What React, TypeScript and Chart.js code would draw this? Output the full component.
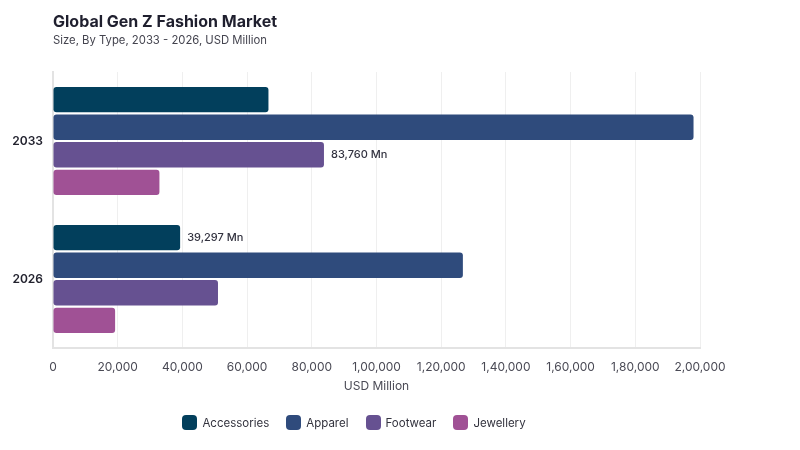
import React, { useEffect, useRef } from "react";
import { Chart, registerables } from "chart.js";

Chart.register(...registerables);

const categories = ["2033", "2026"];
const seriesNames = ["Accessories", "Apparel", "Footwear", "Jewellery"];
const accessories = [66600, 39297];
const apparel = [198000, 126700];
const footwear = [83760, 51000];
const jewellery = [32900, 19200];
const seriesColors = ["#023f5c", "#2f4b7c", "#665191", "#a05195"];
// which (dataset, category) pairs carry a value label
const labelledDataset = [2, 0];
const labelledCategory = [0, 1];
const xTicks = [0, 20000, 40000, 60000, 80000, 100000, 120000, 140000, 160000, 180000, 200000];

const FONT = "Inter, 'Noto Sans', sans-serif";

const fmtIN = (v: number) => Math.round(v).toLocaleString("en-IN");

const valueLabelPlugin = {
  id: "valueLabels",
  afterDatasetsDraw(chart: any) {
    const ctx = chart.ctx;
    ctx.save();
    ctx.font = `500 11px ${FONT}`;
    ctx.fillStyle = "#333340";
    ctx.textAlign = "left";
    ctx.textBaseline = "middle";
    for (let i = 0; i < labelledDataset.length; i++) {
      const ds = labelledDataset[i];
      const ci = labelledCategory[i];
      const el = chart.getDatasetMeta(ds).data[ci];
      const v = chart.data.datasets[ds].data[ci];
      ctx.fillText(`${fmtIN(v)} Mn`, el.x + 7, el.y);
    }
    ctx.restore();
  },
};

export default function App() {
  const ref = useRef<HTMLCanvasElement>(null);
  useEffect(() => {
    const data = [accessories, apparel, footwear, jewellery];
    const chart = new Chart(ref.current!, {
      type: "bar",
      data: {
        labels: categories,
        datasets: seriesNames.map((n, i) => ({
          label: n,
          data: data[i],
          backgroundColor: seriesColors[i],
          borderColor: seriesColors[i],
          borderWidth: 0,
          borderRadius: 3,
          borderSkipped: false,
          categoryPercentage: 0.8,
          barPercentage: 0.92,
        })),
      },
      options: {
        indexAxis: "y",
        animation: false,
        responsive: false,
        maintainAspectRatio: false,
        layout: { padding: { top: 72, right: 100, bottom: 46, left: 0 } },
        plugins: {
          legend: { display: false },
          tooltip: { enabled: false },
          title: { display: false },
        },
        scales: {
          x: {
            min: 0,
            max: 200000,
            afterBuildTicks: (s: any) => {
              s.ticks = xTicks.map((v) => ({ value: v }));
            },
            afterFit: (s: any) => {
              s.height = 56;
            },
            grid: { color: "#efefef", lineWidth: 1, drawTicks: false },
            border: { color: "#e3e3e3", width: 2 },
            ticks: {
              padding: 12,
              color: "#4a4a55",
              font: { family: FONT, size: 12 },
              callback: (v: any) => fmtIN(Number(v)),
            },
            title: {
              display: true,
              text: "USD Million",
              color: "#4a4a55",
              font: { family: FONT, size: 12 },
              padding: { top: 0, bottom: 10 },
            },
          },
          y: {
            afterFit: (s: any) => {
              s.width = 53;
            },
            grid: { display: false, drawTicks: false },
            border: { color: "#e3e3e3", width: 2 },
            ticks: {
              padding: 10,
              color: "#22222e",
              font: { family: FONT, size: 12, weight: 600 },
            },
          },
        },
      },
      plugins: [valueLabelPlugin],
    } as any);
    return () => chart.destroy();
  }, []);

  return (
    <div style={{ position: "fixed", left: 0, top: 0, width: 800, height: 450, background: "#fff", fontFamily: FONT }}>
      <canvas ref={ref} width={800} height={450} style={{ position: "absolute", left: 0, top: 0 }} />
      <div style={{ position: "absolute", left: 53, top: 11, fontSize: 16, fontWeight: 700, color: "#1f1f2e" }}>
        Global Gen Z Fashion Market
      </div>
      <div style={{ position: "absolute", left: 53, top: 33, fontSize: 11.3, color: "#44444f" }}>
        Size, By Type, 2033 - 2026, USD Million
      </div>
      <div
        style={{
          position: "absolute",
          left: 0,
          width: 708,
          top: 415,
          display: "flex",
          justifyContent: "center",
          gap: 17,
          fontSize: 11.5,
          color: "#33333e",
        }}
      >
        {seriesNames.map((n, i) => (
          <div key={n} style={{ display: "flex", alignItems: "center", gap: 5 }}>
            <span style={{ display: "inline-block", width: 15, height: 15, borderRadius: 4, background: seriesColors[i] }} />
            <span>{n}</span>
          </div>
        ))}
      </div>
    </div>
  );
}
